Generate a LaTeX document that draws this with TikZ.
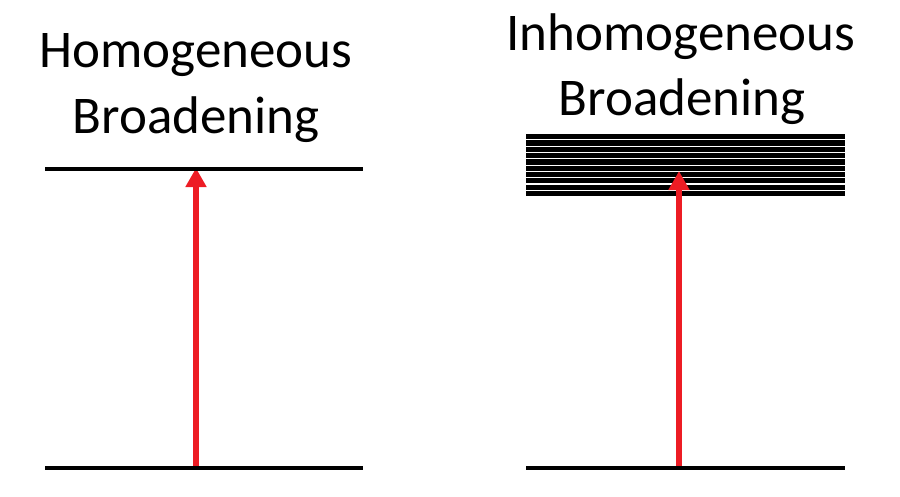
\documentclass[tikz,border=0pt]{standalone}
\usepackage{fontspec}
\setmainfont{Carlito}
\usetikzlibrary{arrows.meta}
\definecolor{arrowred}{RGB}{237,28,36}
\tikzset{
  title/.style={anchor=base, inner sep=0pt, font=\fontsize{53}{66}\selectfont},
  level/.style={line width=4.5pt, black},
  band/.style={line width=5.2pt, black},
  excite/.style={line width=6pt, arrowred, -{Triangle[width=20pt,length=19pt]}},
}
\begin{document}
\begin{tikzpicture}[x=1pt,y=-1pt]
\useasboundingbox (0,0) rectangle (900,496);
% titles
\node[title] (h1) at (196,67) {Homogeneous};
\node[title] (h2) at (196,133) {Broadening};
\node[title] (i1) at (681,50) {Inhomogeneous};
\node[title] (i2) at (682,115) {Broadening};
% coordinates
\coordinate (lb) at (196,466);
\coordinate (lt) at (196,168);
\coordinate (rb) at (679,466);
\coordinate (rt) at (679,171);
% inhomogeneous band stack
\foreach \k in {0,...,9}{
  \draw[band] (526,{136.7+6.3*\k}) -- (845,{136.7+6.3*\k});
}
% arrows
\draw[excite] (lb) -- (lt);
\draw[excite] (rb) -- (rt);
% levels
\draw[level] (45,169) -- (363,169);
\draw[level] (45,468) -- (363,468);
\draw[level] (526,468) -- (845,468);
\end{tikzpicture}
\end{document}
